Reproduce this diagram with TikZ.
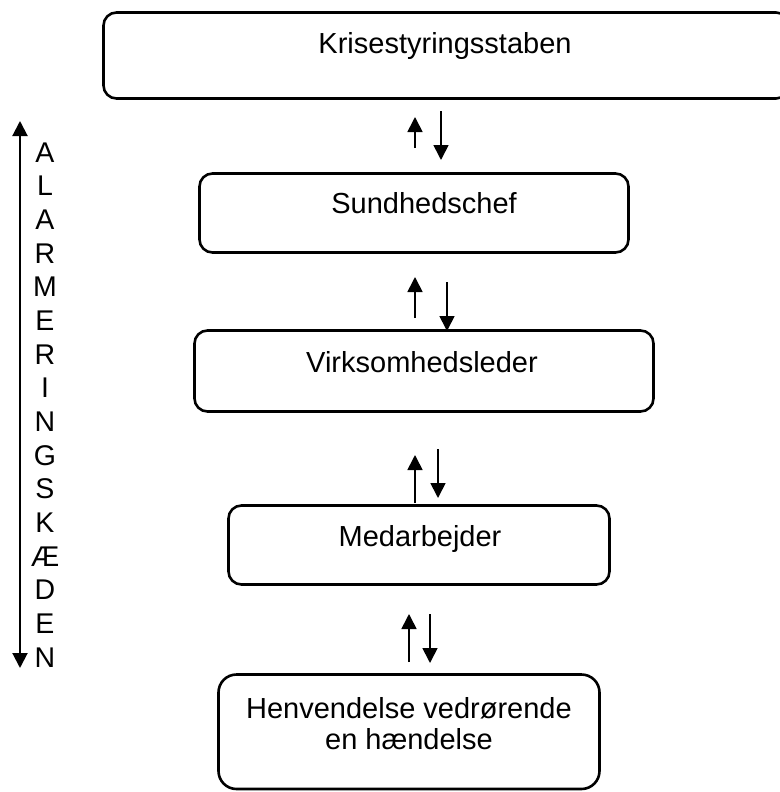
\documentclass[tikz,border=0pt]{standalone}
\usepackage{fontspec}
\setmainfont{Liberation Sans}
\usetikzlibrary{arrows.meta}
\begin{document}
\begin{tikzpicture}[x=1pt,y=-1pt,
  box/.style={draw, line width=2.6pt, rounded corners=13pt, inner sep=0pt},
  lbl/.style={font=\fontsize{29}{31}\selectfont, anchor=base, inner sep=0pt},
  let/.style={font=\fontsize{28.5}{31}\selectfont, anchor=base, inner sep=0pt},
  conn/.style={line width=1.7pt, -{Triangle[length=15pt,width=15pt]}},
  chain/.style={line width=2pt, {Triangle[length=15pt,width=15pt]}-{Triangle[length=15pt,width=15pt]}},
]
\useasboundingbox (0,0) rectangle (779,792);

% boxes
\node[box, minimum width=685.5pt, minimum height=86pt] (b1) at (446.25,55.5) {};
\node[box, minimum width=429pt, minimum height=79pt] (b2) at (414,213) {};
\node[box, minimum width=459pt, minimum height=81pt] (b3) at (424,371) {};
\node[box, minimum width=381pt, minimum height=79pt] (b4) at (419,545) {};
\node[box, rounded corners=18pt, minimum width=381pt, minimum height=114.5pt] (b5) at (409,731.75) {};

% texts
\node[lbl] (t1) at (445,53) {Krisestyringsstaben};
\node[lbl] (t2) at (424,213) {Sundhedschef};
\node[lbl] (t3) at (422,372) {Virksomhedsleder};
\node[lbl] (t4) at (420,546) {Medarbejder};
\node[lbl] (t5a) at (409,718) {Henvendelse vedrørende};
\node[lbl] (t5b) at (409,749) {en hændelse};

% arrow end points
\coordinate (u12s) at (415,148); \coordinate (u12e) at (415,117);
\coordinate (d12s) at (441,111); \coordinate (d12e) at (441,160);
\coordinate (u23s) at (415,318); \coordinate (u23e) at (415,277);
\coordinate (d23s) at (447,282); \coordinate (d23e) at (447,331);
\coordinate (u34s) at (415,503); \coordinate (u34e) at (415,455);
\coordinate (d34s) at (438,449); \coordinate (d34e) at (438,498);
\coordinate (u45s) at (409,662); \coordinate (u45e) at (409,614);
\coordinate (d45s) at (430,614); \coordinate (d45e) at (430,663);

\draw[conn] (u12s) -- (u12e);
\draw[conn] (d12s) -- (d12e);
\draw[conn] (u23s) -- (u23e);
\draw[conn] (d23s) -- (d23e);
\draw[conn] (u34s) -- (u34e);
\draw[conn] (d34s) -- (d34e);
\draw[conn] (u45s) -- (u45e);
\draw[conn] (d45s) -- (d45e);

% alarm chain
\coordinate (ctop) at (20,121);
\coordinate (cbot) at (20,668);
\draw[chain] (ctop) -- (cbot);

\foreach \ch [count=\i from 0] in {A,L,A,R,M,E,R,I,N,G,S,K,Æ,D,E,N}{
  \node[let] (c\i) at (45,{162+33.67*\i}) {\ch};
}
\end{tikzpicture}
\end{document}
